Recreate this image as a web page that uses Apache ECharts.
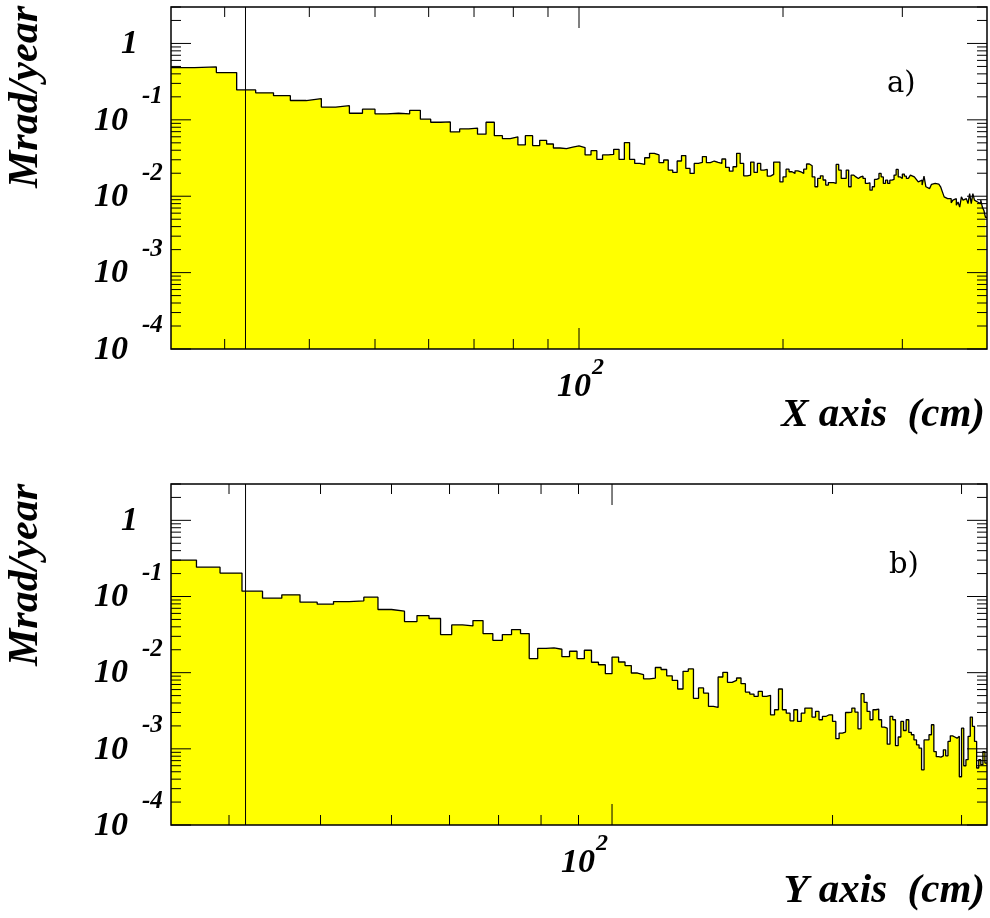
<!DOCTYPE html>
<html><head><meta charset="utf-8">
<script src="https://cdn.jsdelivr.net/npm/echarts@6/dist/echarts.min.js"></script>
<style>html,body{margin:0;padding:0;background:#fff}#c{width:990px;height:918px}</style>
</head><body><div id="c"></div>
<script>
// ---------- data ----------
const binStart = 25;          // cm, left edge of first visible bin
const binWidth = 25 / 12;     // cm
const xRangeTop = [25, 400];
const xRangeBottom = [25, 325];
const yRange = [1e-4, 3];
const cutTop = 32.2;          // vertical marker line (cm)
const cutBottom = 31.6;

// dose along X axis (Mrad/year), one value per bin
const doseX = [
0.483,0.493,0.415,0.246,0.226,0.207,0.179,0.19,0.147,0.153,
0.122,0.138,0.12,0.122,0.12,0.133,0.102,0.093,0.094,0.0695,
0.076,0.078,0.065,0.093,0.062,0.0568,0.06,0.047,0.062,0.046,
0.054,0.0483,0.0428,0.042,0.044,0.0455,
0.0433,0.0347,0.0395,0.0303,0.0347,0.0353,0.0411,0.0303,0.0504,0.0303,
0.0269,0.0261,0.0319,0.0364,0.0347,0.0275,0.0298,0.022,0.0205,0.0289,
0.034,0.0231,0.0199,0.0269,0.0277,0.033,0.0275,
0.0289,0.0277,0.0269,0.0307,0.0238,0.0213,0.0243,0.0364,0.0269,0.0185,
0.0189,0.028,0.0205,0.0269,0.022,0.0224,0.0183,0.0193,0.028,0.028,
0.0154,0.0179,0.0226,0.0209,0.0199,0.0215,0.0209,0.0199,0.0226,0.0264,
0.0251,0.0179,0.0133,0.0171,0.0185,0.0163,0.014,0.0151,0.0151,0.0147,
0.0261,0.022,0.0171,0.0171,0.022,
0.0133,0.0189,0.0179,0.0171,0.0179,0.0183,0.0171,0.0147,0.015,0.012,
0.0133,0.0166,0.0171,0.0199,0.0179,0.0147,0.0162,0.0147,0.0162,0.0166,
0.0189,0.0224,0.0179,0.0171,0.0195,0.0183,0.0171,0.0162,0.0189,0.0179,
0.0175,0.0166,0.0154,0.0162,0.014,0.0183,0.0133,0.0126,0.012,0.0143,
0.0147,0.0147,0.0144,0.014,0.0133,0.0114,0.0098,0.0093,0.009,0.0093,
0.0082,0.0089,0.0093,0.0076,0.0084,0.0072,0.0098,0.0089,0.0093,0.0089,
0.008,0.0108,0.008,0.0108,0.0089,0.0084,0.0089,0.008,0.0089,0.0072,
0.0065,0.0053
];

// dose along Y axis (Mrad/year), one value per bin
const doseY = [
0.301,0.243,0.203,0.1175,0.0951,0.1052,0.0842,0.0792,0.0859,0.0877,
0.098,0.0675,0.0641,0.0469,0.0562,0.0514,0.0316,0.0424,0.0411,0.0483,
0.0326,0.0266,0.0316,0.0368,0.0326,0.0153,0.0209,0.0211,0.0203,0.0162,
0.0191,0.0153,0.0197,0.0137,0.0127,0.0097,0.016,0.0138,0.0124,0.0099,
0.0094,0.0083,0.0085,0.0117,0.011,0.0091,0.0079,0.0061,0.0104,0.0112,
0.0046,0.0063,0.0054,0.0036,0.0035,0.00877,0.0101,0.00747,0.00793,0.00851,
0.00716,0.00557,0.00524,0.00489,0.00568,0.00489,0.00504,0.0028,0.00326,0.0061,
0.00326,0.00294,0.00233,0.00326,0.00229,0.00294,0.00343,0.00343,0.00261,0.0031,
0.00241,0.00266,0.0028,0.0028,0.00229,0.00136,0.00161,0.00166,0.003,0.00304,
0.00343,0.00304,0.00183,0.0053,0.00408,0.0031,0.00241,0.00326,0.00333,0.00241,
0.00193,0.00187,0.00115,0.00267,0.00241,0.0011,0.00143,0.00229,0.00174,0.00241,
0.00164,0.00153,0.00131,0.00113,0.00102,0.00053,0.00131,0.00131,0.00153,0.00207,
0.00092,0.00079,0.00078,0.00081,0.00097,0.00081,0.00125,0.00148,0.00143,0.00138,
0.00146,0.00043,0.00187,0.0006,0.00072,0.00146,0.00261,0.00197,0.00125,0.00056,
0.00072,0.00062,0.00092,0.00065
];

// ticks and labels
const yDecades = [1e-4, 1e-3, 1e-2, 1e-1, 1];
const yDecadeLabels = [['10','-4'], ['10','-3'], ['10','-2'], ['10','-1'], ['1','']];
const xMajorTicks = [100];
const xMajorLabels = [['10','2']];
const xMinorTicks = [30, 40, 50, 60, 70, 80, 90, 200, 300];
const panelTitlesX = ['X axis  (cm)', 'Y axis  (cm)'];
const panelTitleY = 'Mrad/year';
const panelTags = ['a)', 'b)'];

// ---------- build ----------
const FONT = '"Liberation Serif", "DejaVu Serif", serif';
function histPoints(values) {
  const pts = values.map((v, i) => [binStart + i * binWidth, v]);
  pts.push([binStart + values.length * binWidth, values[values.length - 1]]);
  return pts;
}
function yMinorList() {
  const out = [];
  yDecades.forEach(d => { for (let k = 2; k <= 9; k++) { if (d * k <= yRange[1]) out.push(d * k); } });
  return out;
}
function tickItems(xmin) {
  const items = [];
  xMajorTicks.forEach((v, i) => items.push([v, yRange[0], 0, i]));
  xMinorTicks.forEach((v, i) => items.push([v, yRange[0], 1, i]));
  yDecades.forEach((v, i) => items.push([xmin, v, 2, i]));
  yMinorList().forEach((v, i) => items.push([xmin, v, 3, i]));
  items.push([xmin, yRange[0], 4, 0]);
  return items;
}
function line(x1, y1, x2, y2, w) {
  return { type: 'line', shape: { x1, y1, x2, y2 }, style: { stroke: '#000', lineWidth: w || 1 } };
}
function txt(text, x, y, size, align, vAlign, italic, bold) {
  return { type: 'text', style: { text, x, y, fill: '#000',
    font: (italic ? 'italic ' : '') + (bold ? 'bold ' : '') + size + 'px ' + FONT,
    align, verticalAlign: vAlign, textAlign: align, textVerticalAlign: vAlign } };
}
function makeTickRender(xmin, xLabelDx) {
  return function (params, api) {
    const cs = params.coordSys;
    const kind = api.value(2), idx = api.value(3);
    const ch = [];
    if (kind === 0 || kind === 1) {
      const x = api.coord([api.value(0), yRange[0]])[0];
      const len = kind === 0 ? 21 : 10;
      ch.push(line(x, cs.y + cs.height, x, cs.y + cs.height - len));
      ch.push(line(x, cs.y, x, cs.y + len));
      if (kind === 0) {
        const lb = xMajorLabels[idx];
        const lx = x + xLabelDx;
        ch.push(txt(lb[0], lx, cs.y + cs.height + 38, 34, 'center', 'middle', true, true));
        ch.push(txt(lb[1], lx + 18, cs.y + cs.height + 19, 24, 'left', 'middle', true, true));
      }
    } else if (kind === 2 || kind === 3) {
      const y = api.coord([xmin, api.value(1)])[1];
      const len = kind === 2 ? 20 : 10;
      ch.push(line(cs.x, y, cs.x + len, y));
      ch.push(line(cs.x + cs.width, y, cs.x + cs.width - len, y));
      if (kind === 2) {
        const lb = yDecadeLabels[idx];
        if (lb[1] === '') {
          ch.push(txt(lb[0], cs.x - 33, y + 1, 34, 'right', 'middle', true, true));
        } else {
          ch.push(txt(lb[0], cs.x - 43, y + 1, 34, 'right', 'middle', true, true));
          ch.push(txt(lb[1], cs.x - 29, y - 23, 25, 'left', 'middle', true, true));
        }
      }
    } else {
      ch.push({ type: 'rect', shape: { x: cs.x, y: cs.y, width: cs.width, height: cs.height },
        style: { fill: 'none', stroke: '#000', lineWidth: 1.5 } });
    }
    return { type: 'group', children: ch };
  };
}
function cutRender(params, api) {
  const cs = params.coordSys;
  const x = api.coord([api.value(0), yRange[0]])[0];
  return line(x, cs.y, x, cs.y + cs.height, 1);
}

const chart = echarts.init(document.getElementById('c'));
const hiddenAxis = { axisLine: { show: false }, axisTick: { show: false }, axisLabel: { show: false }, splitLine: { show: false } };
const option = {
  animation: false,
  backgroundColor: '#fff',
  grid: [
    { left: 171, top: 7, width: 816, height: 342 },
    { left: 171, top: 484, width: 816, height: 341 }
  ],
  xAxis: [
    Object.assign({ type: 'log', logBase: 10, min: xRangeTop[0], max: xRangeTop[1], gridIndex: 0 }, hiddenAxis),
    Object.assign({ type: 'log', logBase: 10, min: xRangeBottom[0], max: xRangeBottom[1], gridIndex: 1 }, hiddenAxis)
  ],
  yAxis: [
    Object.assign({ type: 'log', logBase: 10, min: yRange[0], max: yRange[1], gridIndex: 0 }, hiddenAxis),
    Object.assign({ type: 'log', logBase: 10, min: yRange[0], max: yRange[1], gridIndex: 1 }, hiddenAxis)
  ],
  series: [
    { type: 'line', xAxisIndex: 0, yAxisIndex: 0, data: histPoints(doseX), step: 'end', symbol: 'none',
      lineStyle: { color: '#000', width: 1.3 }, areaStyle: { color: '#ffff00', opacity: 1, origin: 'start' }, z: 2 },
    { type: 'line', xAxisIndex: 1, yAxisIndex: 1, data: histPoints(doseY), step: 'end', symbol: 'none',
      lineStyle: { color: '#000', width: 1.3 }, areaStyle: { color: '#ffff00', opacity: 1, origin: 'start' }, z: 2 },
    { type: 'custom', xAxisIndex: 0, yAxisIndex: 0, data: [[cutTop, 1]], renderItem: cutRender, clip: false, z: 4 },
    { type: 'custom', xAxisIndex: 1, yAxisIndex: 1, data: [[cutBottom, 1]], renderItem: cutRender, clip: false, z: 4 },
    { type: 'custom', xAxisIndex: 0, yAxisIndex: 0, data: tickItems(xRangeTop[0]), renderItem: makeTickRender(xRangeTop[0], -5), clip: false, z: 5 },
    { type: 'custom', xAxisIndex: 1, yAxisIndex: 1, data: tickItems(xRangeBottom[0]), renderItem: makeTickRender(xRangeBottom[0], -34), clip: false, z: 5 }
  ],
  graphic: [
    { type: 'text', x: 26, y: 97, rotation: Math.PI / 2, style: { text: panelTitleY, font: 'italic bold 42px ' + FONT, fill: '#000', align: 'center', verticalAlign: 'middle' } },
    { type: 'text', x: 26, y: 575, rotation: Math.PI / 2, style: { text: panelTitleY, font: 'italic bold 42px ' + FONT, fill: '#000', align: 'center', verticalAlign: 'middle' } },
    { type: 'text', x: 985, y: 415, style: { text: panelTitlesX[0], font: 'italic bold 41px ' + FONT, fill: '#000', align: 'right', verticalAlign: 'middle' } },
    { type: 'text', x: 985, y: 891, style: { text: panelTitlesX[1], font: 'italic bold 41px ' + FONT, fill: '#000', align: 'right', verticalAlign: 'middle' } },
    { type: 'text', x: 887, y: 84, style: { text: panelTags[0], font: '29px "DejaVu Serif", serif', fill: '#000', align: 'left', verticalAlign: 'middle' } },
    { type: 'text', x: 889, y: 565, style: { text: panelTags[1], font: '29px "DejaVu Serif", serif', fill: '#000', align: 'left', verticalAlign: 'middle' } }
  ]
};
chart.setOption(option);
</script>
</body></html>
